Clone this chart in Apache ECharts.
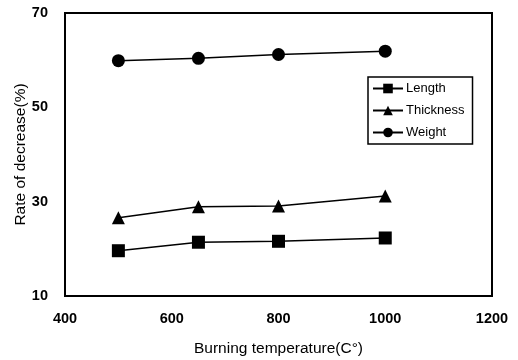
<!DOCTYPE html>
<html>
<head>
<meta charset="utf-8">
<script src="https://cdn.jsdelivr.net/npm/echarts@6/dist/echarts.min.js"></script>
<style>
  html, body { margin: 0; padding: 0; background: #fff; }
</style>
</head>
<body>
<div id="chart" style="width:518px; height:360px"></div>
<script>
  // burning temperature (C)
  var temps = [500, 650, 800, 1000]
  // rate of decrease (%)
  var lengthVals = [19.6, 21.4, 21.6, 22.3]
  var thicknessVals = [26.6, 28.9, 29.1, 31.2]
  var weightVals = [59.9, 60.4, 61.2, 61.9]

  var xTicks = [400, 600, 800, 1000, 1200]
  var yTicks = [10, 30, 50, 70]

  function pairs(vals) {
    return temps.map(function (t, i) { return [t, vals[i]] })
  }

  var font = 'Liberation Sans'
  var chart = echarts.init(document.getElementById('chart'))

  var option = {
    animation: false,
    backgroundColor: '#fff',
    grid: {
      left: 65,
      right: 26,
      top: 13,
      bottom: 64,
      outerBoundsMode: 'none',
      show: true,
      borderColor: '#000',
      borderWidth: 2
    },
    legend: {
      orient: 'vertical',
      left: 368,
      top: 77,
      itemWidth: 30,
      itemHeight: 12,
      itemGap: 9,
      padding: [5, 8, 5, 4],
      borderColor: '#000',
      borderWidth: 1.5,
      textStyle: { fontFamily: font, fontSize: 13, color: '#000', padding: [0, 0, 0, -2] },
      data: ['Length', 'Thickness', 'Weight']
    },
    xAxis: {
      type: 'value',
      min: xTicks[0],
      max: xTicks[xTicks.length - 1],
      interval: 200,
      name: 'Burning temperature(C°)',
      nameLocation: 'middle',
      nameGap: 45,
      nameMoveOverlap: false,
      nameTextStyle: { fontFamily: font, fontSize: 15.5, color: '#000' },
      axisLine: { lineStyle: { color: '#000', width: 2 } },
      axisTick: { show: false },
      splitLine: { show: false },
      axisLabel: {
        fontFamily: font, fontSize: 14.5, fontWeight: 'bold', color: '#000', margin: 15,
        formatter: function (v) { return String(v) }
      }
    },
    yAxis: {
      type: 'value',
      min: yTicks[0],
      max: yTicks[yTicks.length - 1],
      interval: 20,
      name: 'Rate of decrease(%)',
      nameLocation: 'middle',
      nameGap: 36,
      nameMoveOverlap: false,
      nameTextStyle: { fontFamily: font, fontSize: 15.5, color: '#000' },
      axisLine: { lineStyle: { color: '#000', width: 2 } },
      axisTick: { show: false },
      splitLine: { show: false },
      axisLabel: {
        fontFamily: font, fontSize: 14.5, fontWeight: 'bold', color: '#000', margin: 17,
        formatter: function (v) { return String(v) }
      }
    },
    series: [
      {
        name: 'Length',
        type: 'line',
        data: pairs(lengthVals),
        symbol: 'rect',
        symbolSize: 13,
        itemStyle: { color: '#000' },
        lineStyle: { color: '#000', width: 1.5 }
      },
      {
        name: 'Thickness',
        type: 'line',
        data: pairs(thicknessVals),
        symbol: 'triangle',
        symbolSize: 13,
        itemStyle: { color: '#000' },
        lineStyle: { color: '#000', width: 1.5 }
      },
      {
        name: 'Weight',
        type: 'line',
        data: pairs(weightVals),
        symbol: 'circle',
        symbolSize: 13,
        itemStyle: { color: '#000' },
        lineStyle: { color: '#000', width: 1.5 }
      }
    ]
  }

  chart.setOption(option)
</script>
</body>
</html>
